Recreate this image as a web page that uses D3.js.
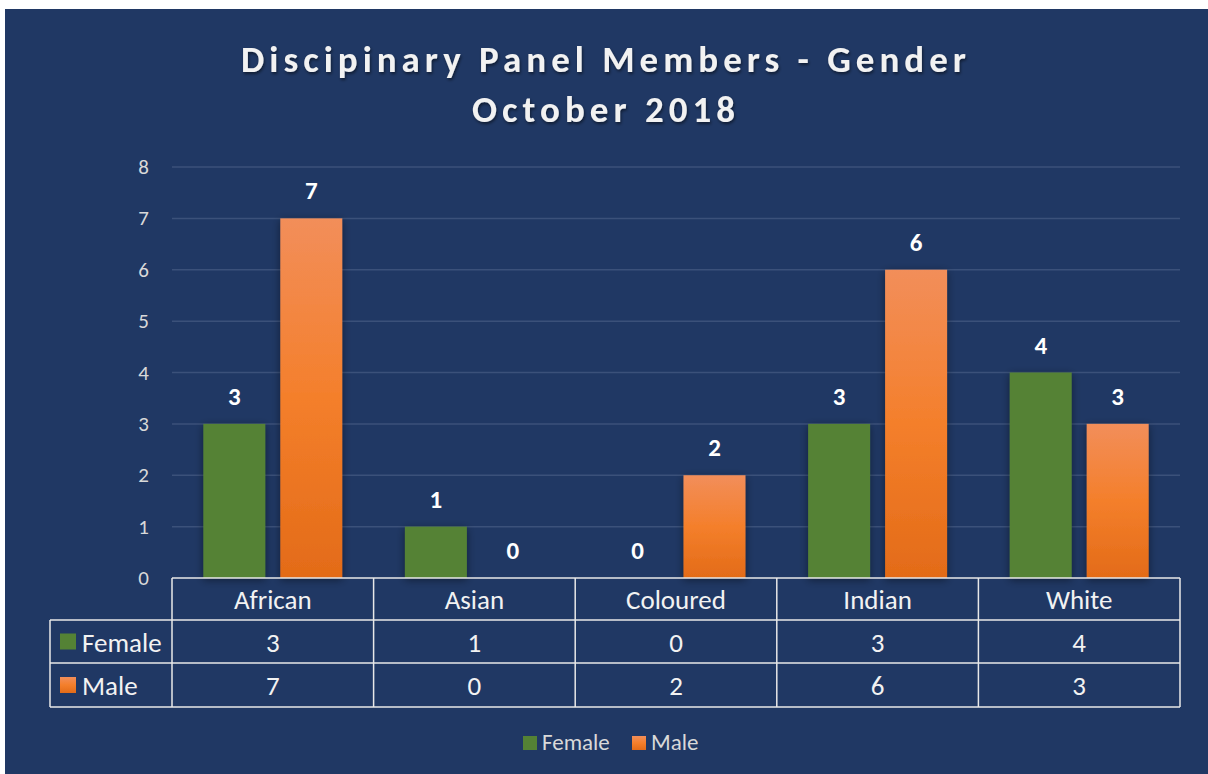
<!DOCTYPE html>
<html>
<head>
<meta charset="utf-8">
<script src="https://cdn.jsdelivr.net/npm/d3@7"></script>
<style>
  body { margin: 0; background: #fff; }
  svg text { font-family: Calibri, Carlito, Lato, sans-serif; }
</style>
</head>
<body>
<script>
var width = 1208, height = 774;

var categories = ["African", "Asian", "Coloured", "Indian", "White"];
var seriesNames = ["Female", "Male"];
var female = [3, 1, 0, 3, 4];
var male = [7, 0, 2, 6, 3];
var yTicks = [0, 1, 2, 3, 4, 5, 6, 7, 8];
var titleLines = ["Discipinary Panel Members - Gender", "October 2018"];

var series = [female, male];

var svg = d3.select("body").append("svg")
    .attr("width", width)
    .attr("height", height);

var defs = svg.append("defs");
var grad = defs.append("linearGradient").attr("id", "orangeGrad")
    .attr("x1", 0).attr("y1", 0).attr("x2", 0).attr("y2", 1);
grad.append("stop").attr("offset", "0%").attr("stop-color", "#f28e5a");
grad.append("stop").attr("offset", "50%").attr("stop-color", "#f47f2b");
grad.append("stop").attr("offset", "100%").attr("stop-color", "#e36b18");

var shadow = defs.append("filter").attr("id", "shadow")
    .attr("x", "-30%").attr("y", "-10%").attr("width", "160%").attr("height", "130%");
shadow.append("feDropShadow").attr("dx", 0).attr("dy", 2).attr("stdDeviation", 4)
    .attr("flood-color", "#000").attr("flood-opacity", 0.45);

var tshadow = defs.append("filter").attr("id", "tshadow");
tshadow.append("feDropShadow").attr("dx", 1).attr("dy", 2).attr("stdDeviation", 1.5)
    .attr("flood-color", "#000").attr("flood-opacity", 0.5);

//background
svg.append("rect")
    .attr("x", 5).attr("y", 9)
    .attr("width", width - 5).attr("height", height - 9)
    .attr("fill", "#203864");

// title
svg.append("g").attr("filter", "url(#tshadow)")
  .selectAll("text").data(titleLines).enter().append("text")
    .attr("x", 606)
    .attr("y", function(d, i) { return 72 + i * 50; })
    .attr("text-anchor", "middle")
    .attr("fill", "#f2f2f2")
    .attr("font-size", 37)
    .attr("font-weight", "bold")
    .attr("letter-spacing", 5)
    .text(function(d) { return d; });

var plotLeft = 172, plotRight = 1180, plotTop = 167, plotBottom = 578;

var x = d3.scaleBand().domain(categories).range([plotLeft, plotRight]);
var y = d3.scaleLinear().domain([0, 8]).range([plotBottom, plotTop]);
var xs = d3.scaleBand().domain(seriesNames).range([0, x.bandwidth()])
    .paddingInner(0.195).paddingOuter(0.407);

// grid
svg.append("g").selectAll("line").data(yTicks.slice(1)).enter().append("line")
    .attr("x1", plotLeft).attr("x2", plotRight)
    .attr("y1", function(d) { return y(d); })
    .attr("y2", function(d) { return y(d); })
    .attr("stroke", "#3b517a")
    .attr("stroke-width", 1.5);

// y labels
svg.append("g").selectAll("text").data(yTicks).enter().append("text")
    .attr("x", 149)
    .attr("y", function(d) { return y(d) + 7; })
    .attr("text-anchor", "end")
    .attr("fill", "#d9d9d9")
    .attr("font-size", 21)
    .text(function(d) { return d; });

var fills = ["#548235", "url(#orangeGrad)"];

// bars
seriesNames.forEach(function(name, si) {
  var vals = series[si];
  svg.append("g").attr("filter", "url(#shadow)")
    .selectAll("rect").data(vals).enter().append("rect")
      .attr("x", function(d, i) { return x(categories[i]) + xs(name); })
      .attr("y", function(d) { return y(d); })
      .attr("width", xs.bandwidth())
      .attr("height", function(d) { return y(0) - y(d); })
      .attr("fill", fills[si]);
  svg.append("g").selectAll("text").data(vals).enter().append("text")
      .attr("x", function(d, i) { return x(categories[i]) + xs(name) + xs.bandwidth() / 2; })
      .attr("y", function(d) { return y(d) - 19; })
      .attr("text-anchor", "middle")
      .attr("fill", "#ffffff")
      .attr("font-size", 25)
      .attr("font-weight", "bold")
      .text(function(d) { return d; });
});

// data table
var rowY = [578, 620, 663, 707];
var tableLeft = 50;
var tg = svg.append("g");
var lineColor = "#e8e8e8";

// horizontal lines
tg.append("line").attr("x1", plotLeft).attr("x2", plotRight).attr("y1", rowY[0]).attr("y2", rowY[0])
  .attr("stroke", lineColor).attr("stroke-width", 1.5);
tg.selectAll("line.h").data(rowY.slice(1)).enter().append("line")
  .attr("x1", tableLeft).attr("x2", plotRight)
  .attr("y1", function(d) { return d; }).attr("y2", function(d) { return d; })
  .attr("stroke", lineColor).attr("stroke-width", 1.5);

// vertical lines
var vx = categories.map(function(c) { return x(c); }).concat([plotRight]);
tg.selectAll("line.v").data(vx).enter().append("line")
  .attr("x1", function(d) { return d; }).attr("x2", function(d) { return d; })
  .attr("y1", rowY[0]).attr("y2", rowY[3])
  .attr("stroke", lineColor).attr("stroke-width", 1.5);
tg.append("line").attr("x1", tableLeft).attr("x2", tableLeft)
  .attr("y1", rowY[1]).attr("y2", rowY[3])
  .attr("stroke", lineColor).attr("stroke-width", 1.5);

// header text
tg.selectAll("text.cat").data(categories).enter().append("text")
  .attr("x", function(d) { return x(d) + x.bandwidth() / 2; })
  .attr("y", 609)
  .attr("text-anchor", "middle")
  .attr("fill", "#f2f2f2")
  .attr("font-size", 27)
  .text(function(d) { return d; });

// row values
seriesNames.forEach(function(name, si) {
  var cy = (rowY[si + 1] + rowY[si + 2]) / 2 + 10;
  tg.append("g").selectAll("text").data(series[si]).enter().append("text")
    .attr("x", function(d, i) { return x(categories[i]) + x.bandwidth() / 2; })
    .attr("y", cy)
    .attr("text-anchor", "middle")
    .attr("fill", "#f2f2f2")
    .attr("font-size", 27)
    .text(function(d) { return d; });
  tg.append("rect")
    .attr("x", 60).attr("y", cy - 18)
    .attr("width", 16).attr("height", 16)
    .attr("fill", fills[si]);
  tg.append("text")
    .attr("x", 82).attr("y", cy)
    .attr("fill", "#f2f2f2")
    .attr("font-size", 27)
    .text(name);
});

// legend
var legendX = [523, 632];
var lg = svg.append("g");
seriesNames.forEach(function(name, si) {
  lg.append("rect")
    .attr("x", legendX[si]).attr("y", 736)
    .attr("width", 14).attr("height", 14)
    .attr("fill", fills[si]);
  lg.append("text")
    .attr("x", legendX[si] + 19).attr("y", 750)
    .attr("fill", "#d9d9d9")
    .attr("font-size", 23)
    .text(name);
});
</script>
</body>
</html>
